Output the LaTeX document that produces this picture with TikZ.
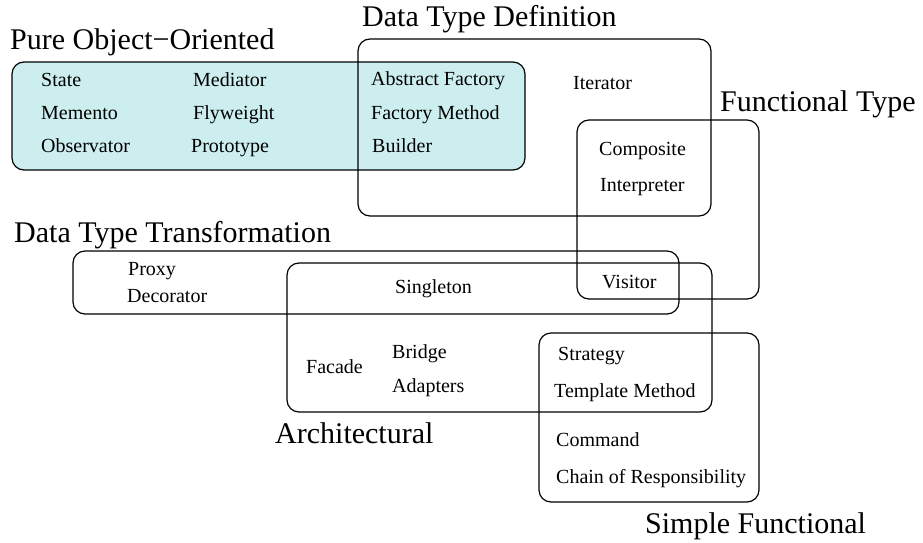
\documentclass[tikz,border=0pt]{standalone}
\usepackage{fontspec}
\setmainfont{Liberation Serif}
\definecolor{pofill}{RGB}{204,238,238}
\tikzset{
  grp/.style={draw=black, line width=1.2pt, rounded corners=12pt, inner sep=0pt, outer sep=0pt, anchor=north west},
  big/.style={anchor=base west, inner sep=0pt, font=\fontsize{30}{34}\selectfont},
  item/.style={anchor=base west, inner sep=0pt, font=\fontsize{20}{24}\selectfont},
}
\begin{document}
\begin{tikzpicture}[x=1pt,y=1pt]
\useasboundingbox (0,0) rectangle (923,542);
% fill of the pure object-oriented group
\fill[pofill, rounded corners=12pt] (12,480) rectangle (525,372);
% groups
\node[grp, minimum width=513pt, minimum height=108pt] (poo) at (12,480) {};
\node[grp, minimum width=353pt, minimum height=177pt] (dtd) at (358,503) {};
\node[grp, minimum width=182pt, minimum height=179pt] (ft) at (577,422) {};
\node[grp, minimum width=606pt, minimum height=63pt] (dtt) at (73,291) {};
\node[grp, minimum width=425pt, minimum height=149pt] (arch) at (287,279) {};
\node[grp, minimum width=220pt, minimum height=169pt] (sf) at (539,209) {};
% group titles
\node[big] (tpoo) at (10,492) {Pure Object−Oriented};
\node[big] (tdtd) at (362,515) {Data Type Definition};
\node[big] (tft) at (720,430) {Functional Type};
\node[big] (tdtt) at (14,300) {Data Type Transformation};
\node[big] (tarch) at (275,99) {Architectural};
\node[big] (tsf) at (645,9) {Simple Functional};
% items
\node[item] (state) at (41,455) {State};
\node[item] (mediator) at (193,455) {Mediator};
\node[item] (absfac) at (371,456) {Abstract Factory};
\node[item] (memento) at (41,422) {Memento};
\node[item] (flyweight) at (193,422) {Flyweight};
\node[item] (facmeth) at (371,422) {Factory Method};
\node[item] (observ) at (41,389) {Observator};
\node[item] (proto) at (191,389) {Prototype};
\node[item] (builder) at (372,389) {Builder};
\node[item] (iterator) at (573,452) {Iterator};
\node[item] (composite) at (599,387) {Composite};
\node[item] (interp) at (600,351) {Interpreter};
\node[item] (visitor) at (602,254) {Visitor};
\node[item] (singleton) at (395,249) {Singleton};
\node[item] (proxy) at (128,267) {Proxy};
\node[item] (decorator) at (127,240) {Decorator};
\node[item] (facade) at (306,169) {Facade};
\node[item] (bridge) at (392,184) {Bridge};
\node[item] (adapters) at (392,150) {Adapters};
\node[item] (strategy) at (558,182) {Strategy};
\node[item] (template) at (554,145) {Template Method};
\node[item] (command) at (556,96) {Command};
\node[item] (chain) at (556,59) {Chain of Responsibility};
\end{tikzpicture}
\end{document}
